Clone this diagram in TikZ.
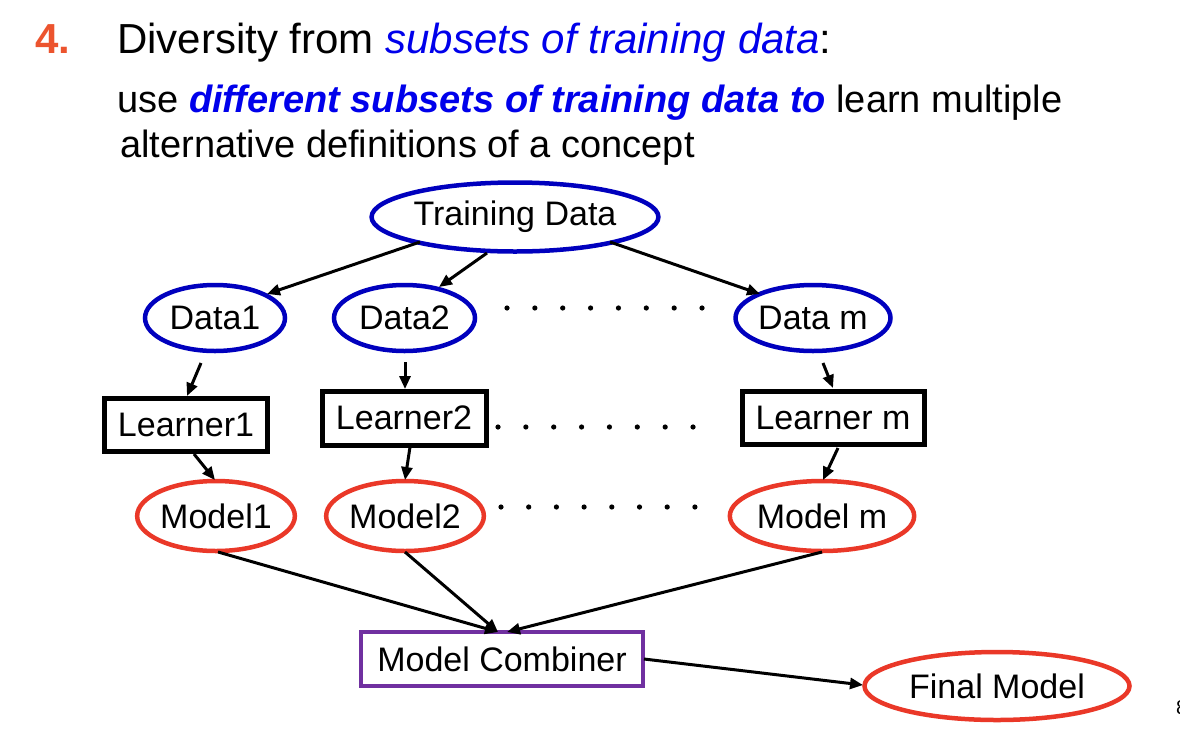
\documentclass[tikz,border=0pt]{standalone}
\usepackage{fontspec}
\setmainfont{Liberation Sans}
\usetikzlibrary{shapes.geometric,arrows.meta,calc}
\definecolor{tblue}{RGB}{0,0,235}
\definecolor{eblue}{RGB}{0,0,190}
\definecolor{ered}{RGB}{234,56,40}
\definecolor{numred}{RGB}{236,84,46}
\definecolor{cpurple}{RGB}{112,48,160}
\begin{document}
\begin{tikzpicture}[x=1pt,y=-1pt,
  nf/.style={font=\fontsize{34}{40}\selectfont},
  bell/.style={ellipse,draw=eblue,line width=4.5pt,inner sep=0pt,nf},
  rell/.style={ellipse,draw=ered,line width=4.5pt,inner sep=0pt,nf},
  lbox/.style={rectangle,draw=black,line width=5pt,inner sep=0pt,nf},
  cbox/.style={rectangle,draw=cpurple,line width=4.5pt,inner sep=0pt,nf},
  arr/.style={-{Triangle[length=13pt,width=11pt]},line width=3pt},
  dotc/.style={fill=black},
  ttl/.style={anchor=base west,inner sep=0pt}
]
\useasboundingbox (0,0) rectangle (1180,734);
\fill[white] (0,0) rectangle (1180,734);

% title text
\node[ttl,font=\fontsize{42}{50}\selectfont\bfseries,text=numred] (num) at (35,53) {4.};
\node[ttl,font=\fontsize{42}{50}\selectfont] (line1) at (117,53) {Diversity from \textcolor{tblue}{\itshape subsets of training data}:};
\node[ttl,font=\fontsize{38}{45}\selectfont] (line2) at (117,112) {use \textcolor{tblue}{\bfseries\itshape different subsets of training data to} learn multiple};
\node[ttl,font=\fontsize{38}{45}\selectfont] (line3) at (120,157) {alternative definitions of a concept};

% nodes
\node[bell,minimum width=262pt,minimum height=69pt] (td) at (515,217) {Training Data};
\node[bell,minimum width=140pt,minimum height=66pt] (d1) at (215,318) {Data1};
\node[bell,minimum width=141pt,minimum height=66pt] (d2) at (404.5,318) {Data2};
\node[bell,minimum width=143pt,minimum height=66pt] (dm) at (813,318) {Data m};

\node[lbox,minimum width=163pt,minimum height=53pt] (l1) at (186,425) {Learner1};
\node[lbox,minimum width=164pt,minimum height=54pt] (l2) at (404,418) {Learner2};
\node[lbox,minimum width=182pt,minimum height=53pt] (lm) at (833,418) {Learner m};

\node[rell,minimum width=142pt,minimum height=70pt] (m1) at (216,516) {Model1};
\node[rell,minimum width=142pt,minimum height=70pt] (m2) at (405,516) {Model2};
\node[rell,minimum width=162pt,minimum height=70pt] (mm) at (822,516) {Model m};

\node[cbox,minimum width=282pt,minimum height=54pt] (mc) at (502,659) {Model Combiner};
\node[rell,minimum width=265pt,minimum height=68pt] (fm) at (997,686) {Final Model};

% dots
\foreach \i in {0,...,7} {
  \fill[dotc] (507+27.86*\i,308) circle (2.6pt);
  \fill[dotc] (498+27.86*\i,427) circle (2.6pt);
  \fill[dotc] (501+27.7*\i,507) circle (2.6pt);
}

% connectors
\draw[arr] ($(td)+(-95,25)$) -- ($(d1)+(52,-24)$);
\draw[arr] ($(td)+(-28,36)$) -- ($(d2)+(34.5,-31)$);
\draw[arr] ($(td)+(95,25)$) -- ($(dm)+(-53,-24)$);

\draw[arr] ($(d1)+(-14,45)$) -- ($(l1)+(1,-29)$);
\draw[arr] ($(d2)+(0.5,44)$) -- ($(l2)+(1,-29)$);
\draw[arr] ($(dm)+(10,45)$) -- ($(lm)+(0,-30)$);

\draw[arr] ($(l1)+(8,29)$) -- ($(m1)+(-1,-36)$);
\draw[arr] ($(l2)+(6,29)$) -- ($(m2)+(0,-36)$);
\draw[arr] ($(lm)+(5,30)$) -- ($(mm)+(1,-36)$);

\draw[arr] ($(m1)+(2,36)$) -- ($(mc)+(-4,-27)$);
\draw[arr] ($(m2)+(0,36)$) -- ($(mc)+(-4,-27)$);
\draw[arr] ($(mm)+(0,36)$) -- ($(mc)+(5,-27)$);

\draw[arr] ($(mc)+(142,0)$) -- ($(fm)+(-134,-1)$);

% cut-off page number
\node[ttl,font=\fontsize{20}{24}\selectfont] (pg) at (1176,714) {8};
\end{tikzpicture}
\end{document}
